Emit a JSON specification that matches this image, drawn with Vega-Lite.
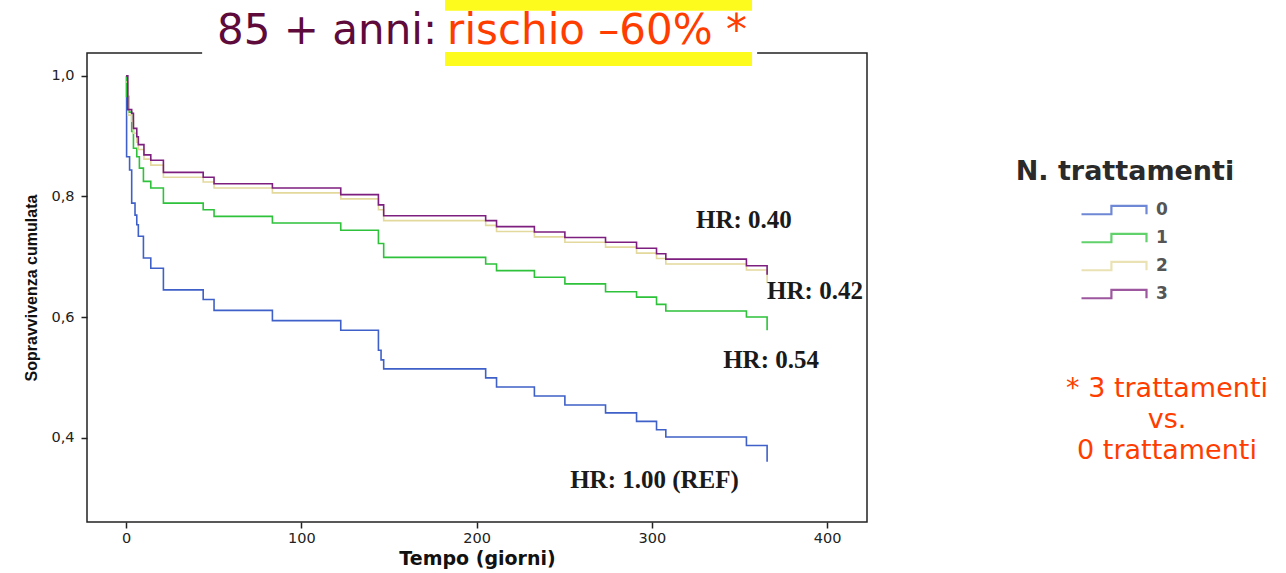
{
  "$schema": "https://vega.github.io/schema/vega-lite/v6.json",
  "width": 780,
  "height": 469,
  "autosize": {"type": "none"},
  "padding": {"left": 87, "top": 53, "right": 419, "bottom": 51},
  "background": "white",
  "config": {"view": {"stroke": "#222", "strokeWidth": 1.5}},
  "encoding": {
    "x": {
      "field": "t", "type": "quantitative",
      "scale": {"domain": [-22.3, 422.8], "nice": false, "zero": false},
      "axis": {"title": "Tempo (giorni)", "values": [0, 100, 200, 300, 400], "grid": false, "domain": false,
        "tickColor": "#222", "tickSize": 6, "tickWidth": 1.5,
        "labelFont": "DejaVu Sans", "labelFontSize": 14.5, "labelColor": "#222", "labelPadding": 3,
        "titleFont": "DejaVu Sans", "titleFontSize": 19, "titleFontWeight": "bold", "titleColor": "#111", "titlePadding": 5}
    },
    "y": {
      "field": "S", "type": "quantitative",
      "scale": {"domain": [0.26, 1.038], "nice": false, "zero": false},
      "axis": {"title": "Sopravvivenza cumulata", "values": [0.4, 0.6, 0.8, 1.0], "grid": false, "domain": false,
        "labelExpr": "replace(format(datum.value, '.1f'), '.', ',')",
        "tickColor": "#222", "tickSize": 6, "tickWidth": 1.5,
        "labelFont": "DejaVu Sans", "labelFontSize": 14.5, "labelColor": "#222", "labelPadding": 7,
        "titleFont": "Liberation Sans", "titleFontSize": 16, "titleFontWeight": "bold", "titleColor": "#111", "titlePadding": 11}
    }
  },
  "layer": [
    {
      "data": {"values": [
        {"g": "0", "t": 0, "S": 1.0}, {"g": "0", "t": 0.3, "S": 0.866}, {"g": "0", "t": 2, "S": 0.844}, {"g": "0", "t": 3.2, "S": 0.789},
        {"g": "0", "t": 5.1, "S": 0.769}, {"g": "0", "t": 6.1, "S": 0.753}, {"g": "0", "t": 7, "S": 0.734}, {"g": "0", "t": 9.9, "S": 0.698},
        {"g": "0", "t": 14.1, "S": 0.681}, {"g": "0", "t": 21.3, "S": 0.645}, {"g": "0", "t": 44, "S": 0.629}, {"g": "0", "t": 50.2, "S": 0.611},
        {"g": "0", "t": 83.5, "S": 0.594}, {"g": "0", "t": 122.5, "S": 0.578}, {"g": "0", "t": 144, "S": 0.545}, {"g": "0", "t": 145.5, "S": 0.529},
        {"g": "0", "t": 147, "S": 0.514}, {"g": "0", "t": 205.2, "S": 0.499}, {"g": "0", "t": 211.4, "S": 0.484}, {"g": "0", "t": 233, "S": 0.469},
        {"g": "0", "t": 250.4, "S": 0.454}, {"g": "0", "t": 273.6, "S": 0.441}, {"g": "0", "t": 291.3, "S": 0.427}, {"g": "0", "t": 302.7, "S": 0.413},
        {"g": "0", "t": 308, "S": 0.401}, {"g": "0", "t": 354, "S": 0.387}, {"g": "0", "t": 365.8, "S": 0.360},

        {"g": "1", "t": 0, "S": 1.0}, {"g": "1", "t": 0.3, "S": 0.966}, {"g": "1", "t": 1.5, "S": 0.94}, {"g": "1", "t": 3.2, "S": 0.908},
        {"g": "1", "t": 4.2, "S": 0.880}, {"g": "1", "t": 6.1, "S": 0.866}, {"g": "1", "t": 7.6, "S": 0.847}, {"g": "1", "t": 9.9, "S": 0.825},
        {"g": "1", "t": 14.1, "S": 0.814}, {"g": "1", "t": 21.3, "S": 0.789}, {"g": "1", "t": 44, "S": 0.778}, {"g": "1", "t": 50.2, "S": 0.767},
        {"g": "1", "t": 83.5, "S": 0.756}, {"g": "1", "t": 122.5, "S": 0.744}, {"g": "1", "t": 144, "S": 0.722}, {"g": "1", "t": 147, "S": 0.699},
        {"g": "1", "t": 205.2, "S": 0.688}, {"g": "1", "t": 211.4, "S": 0.677}, {"g": "1", "t": 233, "S": 0.666}, {"g": "1", "t": 250.4, "S": 0.655},
        {"g": "1", "t": 273.6, "S": 0.642}, {"g": "1", "t": 291.3, "S": 0.633}, {"g": "1", "t": 302.7, "S": 0.621}, {"g": "1", "t": 308, "S": 0.610},
        {"g": "1", "t": 354, "S": 0.600}, {"g": "1", "t": 365.8, "S": 0.578},

        {"g": "2", "t": 0, "S": 0.99}, {"g": "2", "t": 1, "S": 0.935}, {"g": "2", "t": 3.2, "S": 0.925}, {"g": "2", "t": 4.2, "S": 0.905},
        {"g": "2", "t": 6.1, "S": 0.890}, {"g": "2", "t": 7, "S": 0.878}, {"g": "2", "t": 10.2, "S": 0.862}, {"g": "2", "t": 14.1, "S": 0.852},
        {"g": "2", "t": 21.3, "S": 0.832}, {"g": "2", "t": 44, "S": 0.824}, {"g": "2", "t": 50.2, "S": 0.814}, {"g": "2", "t": 83.5, "S": 0.806},
        {"g": "2", "t": 122.5, "S": 0.796}, {"g": "2", "t": 144, "S": 0.778}, {"g": "2", "t": 147, "S": 0.760}, {"g": "2", "t": 205.2, "S": 0.752},
        {"g": "2", "t": 211.4, "S": 0.742}, {"g": "2", "t": 233, "S": 0.733}, {"g": "2", "t": 250.4, "S": 0.724}, {"g": "2", "t": 273.6, "S": 0.716},
        {"g": "2", "t": 291.3, "S": 0.706}, {"g": "2", "t": 302.7, "S": 0.697}, {"g": "2", "t": 308, "S": 0.688}, {"g": "2", "t": 354, "S": 0.678},
        {"g": "2", "t": 365.8, "S": 0.656},

        {"g": "3", "t": 0, "S": 1.0}, {"g": "3", "t": 1, "S": 0.944}, {"g": "3", "t": 3.2, "S": 0.938}, {"g": "3", "t": 4.2, "S": 0.913},
        {"g": "3", "t": 6.1, "S": 0.899}, {"g": "3", "t": 7, "S": 0.886}, {"g": "3", "t": 10.2, "S": 0.869}, {"g": "3", "t": 14.1, "S": 0.860},
        {"g": "3", "t": 21.3, "S": 0.840}, {"g": "3", "t": 44, "S": 0.832}, {"g": "3", "t": 50.2, "S": 0.821}, {"g": "3", "t": 83.5, "S": 0.814},
        {"g": "3", "t": 122.5, "S": 0.803}, {"g": "3", "t": 144, "S": 0.786}, {"g": "3", "t": 147, "S": 0.768}, {"g": "3", "t": 205.2, "S": 0.760},
        {"g": "3", "t": 211.4, "S": 0.750}, {"g": "3", "t": 233, "S": 0.741}, {"g": "3", "t": 250.4, "S": 0.732}, {"g": "3", "t": 273.6, "S": 0.724},
        {"g": "3", "t": 291.3, "S": 0.714}, {"g": "3", "t": 302.7, "S": 0.705}, {"g": "3", "t": 308, "S": 0.696}, {"g": "3", "t": 354, "S": 0.685},
        {"g": "3", "t": 365.8, "S": 0.670}
      ]},
      "mark": {"type": "line", "interpolate": "step-after", "strokeWidth": 1.6},
      "encoding": {
        "color": {
          "field": "g", "type": "nominal",
          "scale": {"domain": ["0", "1", "2", "3"], "range": ["#3f60c8", "#2dc23a", "#e3d99c", "#7d1f7e"]},
          "legend": {
            "title": null, "orient": "none", "legendX": 993, "legendY": 149,
            "symbolType": "M-1,0.13L-0.08,0.13L-0.08,-0.13L1,-0.13L1,0.13",
            "symbolSize": 4225, "symbolStrokeWidth": 2.2, "symbolOpacity": 0.75, "symbolFillColor": "transparent",
            "clipHeight": 16, "rowPadding": 11,
            "labelFont": "DejaVu Sans", "labelFontSize": 17, "labelFontWeight": "bold", "labelColor": "#555", "labelOffset": 8
          }
        }
      }
    },
    {
      "data": {"values": [{"t": 43.4, "t2": 360.1, "S": 1.13, "S2": 1.033}]},
      "mark": {"type": "rect", "fill": "white"},
      "encoding": {"x2": {"field": "t2"}, "y2": {"field": "S2"}}
    },
    {
      "data": {"values": [{"t": 182.0, "t2": 357.2, "S": 1.126, "S2": 1.108}, {"t": 182.0, "t2": 357.2, "S": 1.0398, "S2": 1.0166}]},
      "mark": {"type": "rect", "fill": "#fdfb1e"},
      "encoding": {"x2": {"field": "t2"}, "y2": {"field": "S2"}}
    },
    {
      "data": {"values": [{"t": 177.5, "S": 1.074, "label": "85 + anni:"}]},
      "mark": {"type": "text", "align": "right", "baseline": "middle", "font": "DejaVu Sans", "fontSize": 42, "color": "#5e0b3b"},
      "encoding": {"text": {"field": "label"}}
    },
    {
      "data": {"values": [{"t": 183.2, "S": 1.074, "label": "rischio –60% *"}]},
      "mark": {"type": "text", "align": "left", "baseline": "middle", "font": "DejaVu Sans", "fontSize": 42, "color": "#ff3d00"},
      "encoding": {"text": {"field": "label"}}
    },
    {
      "data": {"values": [
        {"t": 325.2, "S": 0.761, "label": "HR: 0.40"},
        {"t": 365.8, "S": 0.643, "label": "HR: 0.42"},
        {"t": 340.7, "S": 0.529, "label": "HR: 0.54"},
        {"t": 253.4, "S": 0.329, "label": "HR: 1.00 (REF)"}
      ]},
      "mark": {"type": "text", "align": "left", "baseline": "middle", "font": "Liberation Serif", "fontSize": 25, "fontWeight": "bold", "color": "#1a1a1a"},
      "encoding": {"text": {"field": "label"}}
    },
    {
      "data": {"values": [{"t": 570.0, "S": 0.841, "label": "N. trattamenti"}]},
      "mark": {"type": "text", "align": "center", "baseline": "middle", "font": "DejaVu Sans", "fontSize": 27, "fontWeight": "bold", "color": "#2a2a2a"},
      "encoding": {"text": {"field": "label"}}
    },
    {
      "data": {"values": [
        {"t": 594.0, "S": 0.4805, "label": "* 3 trattamenti"},
        {"t": 594.0, "S": 0.429, "label": "vs."},
        {"t": 594.0, "S": 0.3775, "label": "0 trattamenti"}
      ]},
      "mark": {"type": "text", "align": "center", "baseline": "middle", "font": "DejaVu Sans", "fontSize": 27, "color": "#ff3d00"},
      "encoding": {"text": {"field": "label"}}
    }
  ]
}
